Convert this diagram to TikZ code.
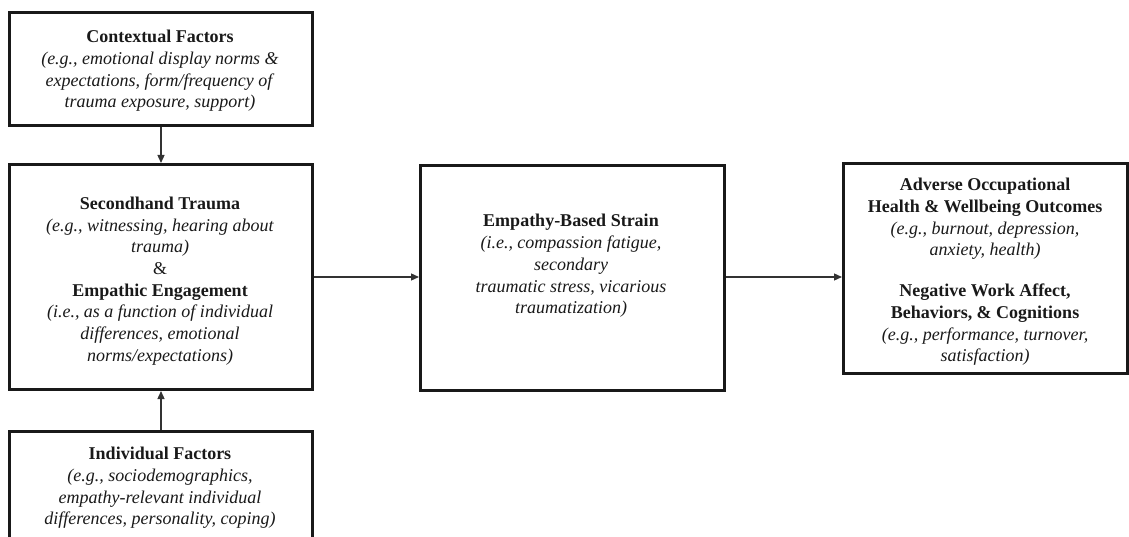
\documentclass[tikz,border=0pt]{standalone}
\usepackage{fontspec}
\setmainfont{Liberation Serif}
\usetikzlibrary{arrows.meta}
\begin{document}
\begin{tikzpicture}[x=1pt,y=-1pt,
  box/.style={draw=black!90,line width=3pt,rectangle,inner sep=0pt,anchor=north west},
  txt/.style={align=center,inner sep=0pt,font=\fontsize{18}{21.7}\selectfont,text=black!90},
  conn/.style={draw=black!80,line width=1.3pt,-{Triangle[length=8pt,width=7pt]}}]
\useasboundingbox (0,0) rectangle (1129,537);
\begin{scope}
\clip (0,0) rectangle (1129,537);
\node[box,minimum width=303pt,minimum height=113pt] (ctx) at (8,11) {};
\node[box,minimum width=303pt,minimum height=225pt] (sh) at (8,163) {};
\node[box,minimum width=303pt,minimum height=113pt] (ind) at (8,430) {};
\node[box,minimum width=304pt,minimum height=225pt] (emp) at (419,164) {};
\node[box,minimum width=284pt,minimum height=210pt] (out) at (842,162) {};
\end{scope}

\node[txt] (ctxt) at (160,71) {\textbf{Contextual Factors}\\ \textit{(e.g., emotional display norms \&}\\ \textit{expectations, form/frequency of}\\ \textit{trauma exposure, support)}};
\node[txt] (sht) at (160,281) {\textbf{Secondhand Trauma}\\ \textit{(e.g., witnessing, hearing about}\\ \textit{trauma)}\\ \&\\ \textbf{Empathic Engagement}\\ \textit{(i.e., as a function of individual}\\ \textit{differences, emotional}\\ \textit{norms/expectations)}};
\node[txt] (indt) at (160,488) {\textbf{Individual Factors}\\ \textit{(e.g., sociodemographics,}\\ \textit{empathy-relevant individual}\\ \textit{differences, personality, coping)}};
\node[txt] (empt) at (571,266) {\textbf{Empathy-Based Strain}\\ \textit{(i.e., compassion fatigue,}\\ \textit{secondary}\\ \textit{traumatic stress, vicarious}\\ \textit{traumatization)}};
\node[txt] (outt) at (985,272) {\textbf{Adverse Occupational}\\ \textbf{Health \& Wellbeing Outcomes}\\ \textit{(e.g., burnout, depression,}\\ \textit{anxiety, health)}\\[19pt] \textbf{Negative Work Affect,}\\ \textbf{Behaviors, \& Cognitions}\\ \textit{(e.g., performance, turnover,}\\ \textit{satisfaction)}};

\draw[conn] (ctx.south) -- (sh.north);
\draw[conn] (ind.north) -- (sh.south);
\draw[conn] (sh.east |- 0,277) -- (emp.west |- 0,277);
\draw[conn] (emp.east |- 0,277) -- (out.west |- 0,277);
\end{tikzpicture}
\end{document}
